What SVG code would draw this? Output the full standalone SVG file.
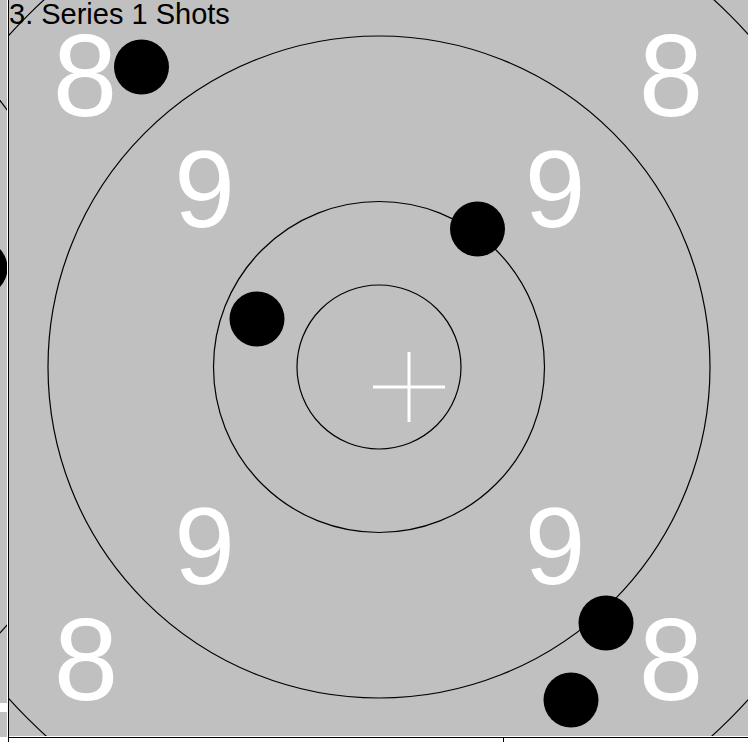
<svg xmlns="http://www.w3.org/2000/svg" width="748" height="742" viewBox="0 0 748 742">
<style>
.ring{fill:none;stroke:#000;stroke-width:1.2}
.num{fill:#fff;font-family:"Liberation Sans",Arial,sans-serif}
.n8{font-size:116px}
.n9{font-size:109px}
.shot{fill:#000}
.title{font-family:"Liberation Sans",Arial,sans-serif;font-size:29px;fill:#000}
</style>
<defs>
<clipPath id="area"><rect x="9" y="0" width="739" height="737"/></clipPath>
<clipPath id="strip"><rect x="0" y="0" width="7" height="737"/></clipPath>
</defs>
<rect x="0" y="0" width="748" height="742" fill="#fff"/>
<rect x="0" y="0" width="748" height="737" fill="#c0c0c0"/>
<g id="left-strip" clip-path="url(#strip)">
<line x1="-2" y1="98" x2="8" y2="111" stroke="#000" stroke-width="1.2"/>
<line x1="-2" y1="635" x2="8" y2="624" stroke="#000" stroke-width="1.2"/>
<circle cx="-20" cy="268" r="27.5" fill="#000"/>
<rect x="0" y="703" width="7" height="9" fill="#fff"/>
</g>
<g id="target" clip-path="url(#area)">
<circle class="ring" cx="379" cy="367" r="497"/>
<circle class="ring" cx="379" cy="367" r="331"/>
<circle class="ring" cx="379" cy="367" r="165.5"/>
<circle class="ring" cx="379" cy="367" r="82"/>
<g id="labels">
<text class="num n8" x="85" y="116" text-anchor="middle">8</text>
<text class="num n8" x="671" y="116" text-anchor="middle">8</text>
<text class="num n8" x="86" y="700" text-anchor="middle">8</text>
<text class="num n8" x="671" y="700" text-anchor="middle">8</text>
<text class="num n9" x="204.5" y="227" text-anchor="middle">9</text>
<text class="num n9" x="555" y="227" text-anchor="middle">9</text>
<text class="num n9" x="204.5" y="584" text-anchor="middle">9</text>
<text class="num n9" x="555" y="584" text-anchor="middle">9</text>
</g>
<g id="cross" stroke="#fff" stroke-width="3">
<line x1="373" y1="387" x2="445" y2="387"/>
<line x1="409" y1="352" x2="409" y2="422"/>
</g>
<g id="shots">
<circle class="shot" cx="141.5" cy="67" r="27.5"/>
<circle class="shot" cx="477.5" cy="229" r="27.5"/>
<circle class="shot" cx="257" cy="319" r="27.5"/>
<circle class="shot" cx="606" cy="623" r="27.5"/>
<circle class="shot" cx="571" cy="700" r="27.5"/>
</g>
</g>
<g id="frame">
<line x1="7.5" y1="0" x2="7.5" y2="737" stroke="#fff" stroke-width="1"/>
<line x1="8.5" y1="0" x2="8.5" y2="742" stroke="#000" stroke-width="1"/>
<line x1="9" y1="736.5" x2="748" y2="736.5" stroke="#fff" stroke-width="1"/>
<line x1="8" y1="737.5" x2="748" y2="737.5" stroke="#000" stroke-width="1"/>
<line x1="503.5" y1="738" x2="503.5" y2="742" stroke="#000" stroke-width="1"/>
</g>
<text class="title" x="9" y="24">3. Series 1 Shots</text>
</svg>
